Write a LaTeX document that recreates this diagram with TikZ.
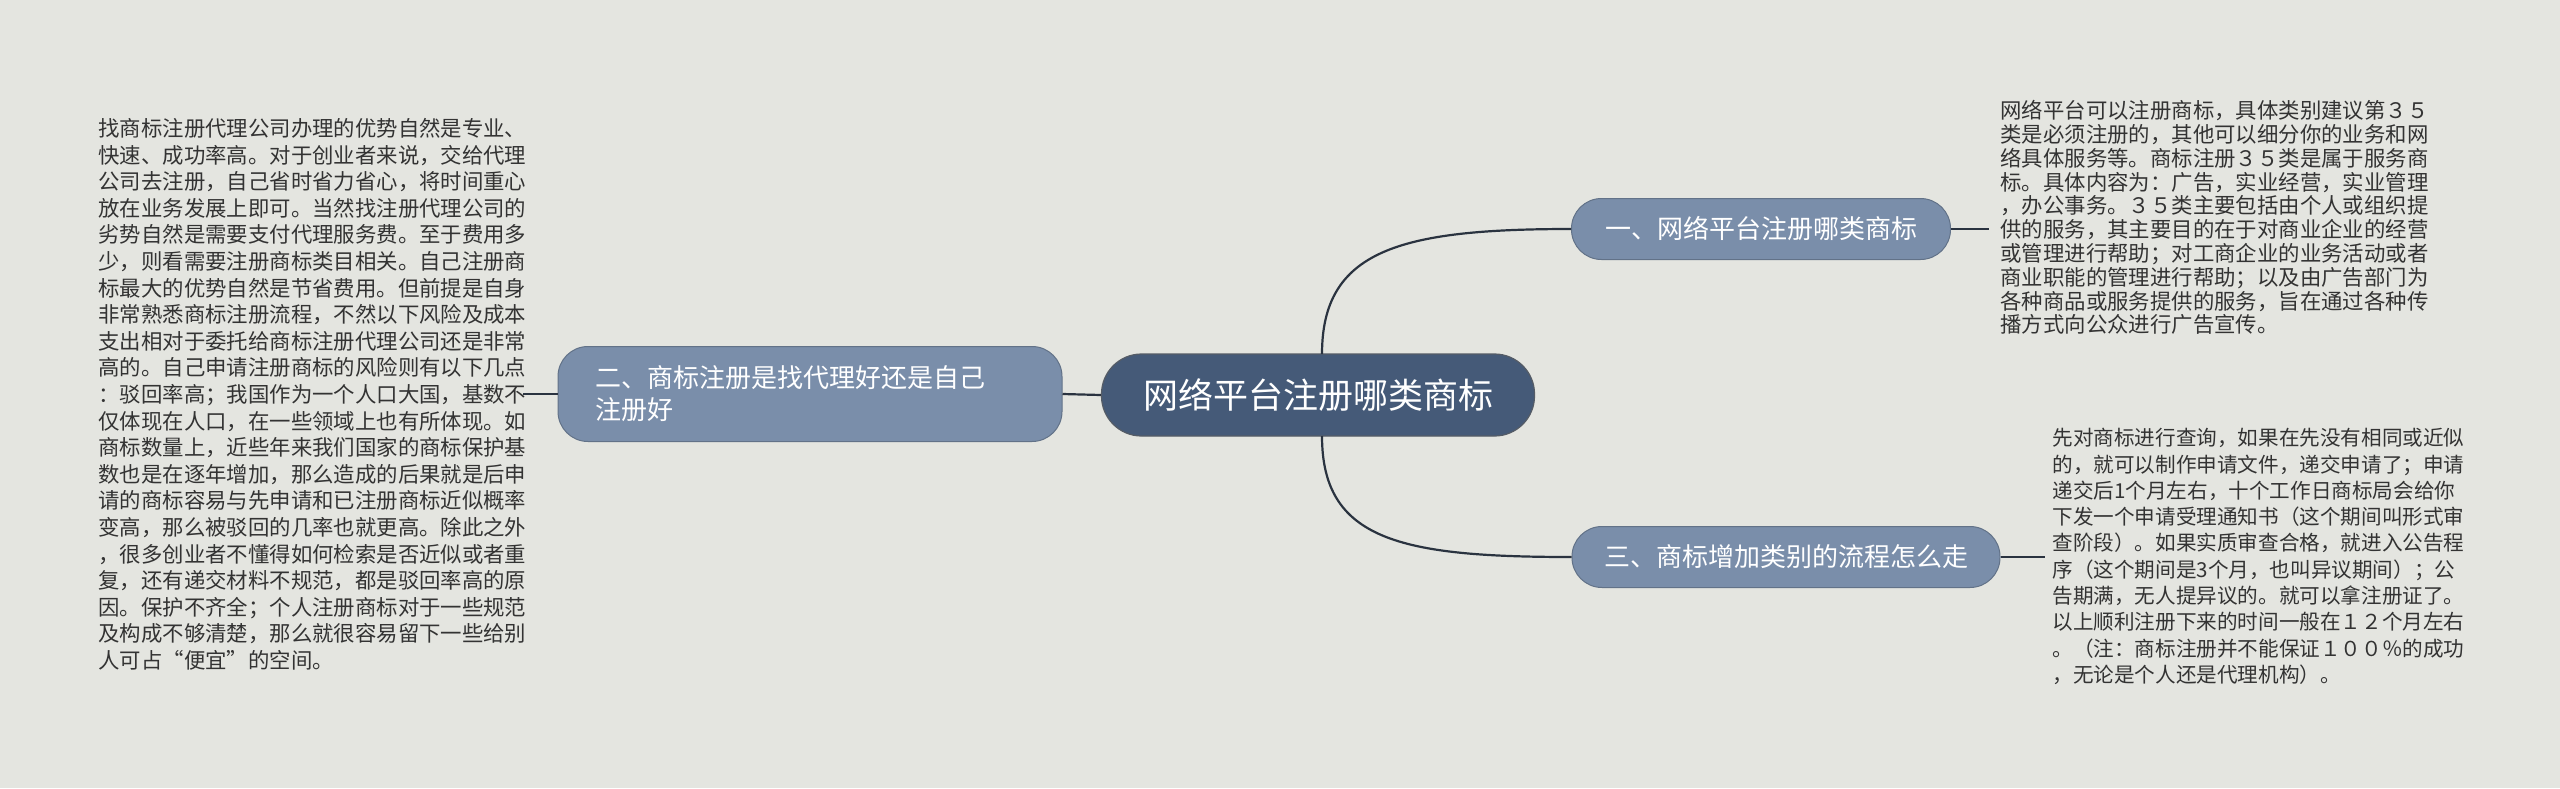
\documentclass[tikz,border=0pt]{standalone}
\usepackage{fontspec}
\setmainfont{Noto Sans CJK SC}
\definecolor{bg}{HTML}{E4E5E0}
\definecolor{cen}{HTML}{455A78}
\definecolor{side}{HTML}{7A8EAA}
\definecolor{ln}{HTML}{2A3340}
\definecolor{tx}{HTML}{333333}
\begin{document}
\begin{tikzpicture}[x=0.5pt,y=-0.5pt,
  cbox/.style={rounded corners=20pt,fill=cen,draw=ln!80,line width=0.6pt,text=white,font=\fontsize{17.5pt}{21pt}\selectfont,minimum width=216.5pt,minimum height=41pt,inner sep=0pt},
  sbox/.style={rounded corners=15pt,fill=side,draw=side!80!black,line width=0.5pt,text=white,font=\fontsize{13pt}{16pt}\selectfont,inner sep=0pt},
  para/.style={anchor=north west,inner sep=0pt,text=tx,align=left},
  conn/.style={draw=ln,line width=1.1pt}]
\fill[bg] (0,0) rectangle (2560,788);
\node[cbox] (c) at (1318,395) {网络平台注册哪类商标};
\node[sbox,minimum width=252pt,minimum height=47.5pt,align=left,text width=215pt] (l) at (810,394) {二、商标注册是找代理好还是自己\\注册好};
\node[sbox,minimum width=189.5pt,minimum height=30.5pt] (r1) at (1761,229) {一、网络平台注册哪类商标};
\node[sbox,minimum width=214pt,minimum height=30.5pt] (r2) at (1786,557) {三、商标增加类别的流程怎么走};
\coordinate (lt) at (523,394);
\coordinate (r1t) at (1989,229);
\coordinate (r2t) at (2045,557);
\coordinate (cu) at (1322,354);
\coordinate (cd) at (1322,436);
\draw[conn] (c.west) -- (l.east);
\draw[conn] (l.west) -- (lt);
\draw[conn] (r1.east) -- (r1t);
\draw[conn] (r2.east) -- (r2t);
\draw[conn] (cu) .. controls (1322,250) and (1400,229) .. (r1.west);
\draw[conn] (cd) .. controls (1322,540) and (1400,557) .. (r2.west);
\node[para,font=\fontsize{10.7pt}{13.3pt}\selectfont] (lp) at (98,118) {找商标注册代理公司办理的优势自然是专业、\\快速、成功率高。对于创业者来说，交给代理\\公司去注册，自己省时省力省心，将时间重心\\放在业务发展上即可。当然找注册代理公司的\\劣势自然是需要支付代理服务费。至于费用多\\少，则看需要注册商标类目相关。自己注册商\\标最大的优势自然是节省费用。但前提是自身\\非常熟悉商标注册流程，不然以下风险及成本\\支出相对于委托给商标注册代理公司还是非常\\高的。自己申请注册商标的风险则有以下几点\\：驳回率高；我国作为一个人口大国，基数不\\仅体现在人口，在一些领域上也有所体现。如\\商标数量上，近些年来我们国家的商标保护基\\数也是在逐年增加，那么造成的后果就是后申\\请的商标容易与先申请和已注册商标近似概率\\变高，那么被驳回的几率也就更高。除此之外\\，很多创业者不懂得如何检索是否近似或者重\\复，还有递交材料不规范，都是驳回率高的原\\因。保护不齐全；个人注册商标对于一些规范\\及构成不够清楚，那么就很容易留下一些给别\\人可占“便宜”的空间。};
\node[para,font=\fontsize{10.7pt}{11.9pt}\selectfont] (r1p) at (2000,100) {网络平台可以注册商标，具体类别建议第３５\\类是必须注册的，其他可以细分你的业务和网\\络具体服务等。商标注册３５类是属于服务商\\标。具体内容为：广告，实业经营，实业管理\\，办公事务。３５类主要包括由个人或组织提\\供的服务，其主要目的在于对商业企业的经营\\或管理进行帮助；对工商企业的业务活动或者\\商业职能的管理进行帮助；以及由广告部门为\\各种商品或服务提供的服务，旨在通过各种传\\播方式向公众进行广告宣传。};
\node[para,font=\fontsize{10.3pt}{13.15pt}\selectfont] (r2p) at (2052,428) {先对商标进行查询，如果在先没有相同或近似\\的，就可以制作申请文件，递交申请了；申请\\递交后1个月左右，十个工作日商标局会给你\\下发一个申请受理通知书（这个期间叫形式审\\查阶段）。如果实质审查合格，就进入公告程\\序（这个期间是3个月，也叫异议期间）；公\\告期满，无人提异议的。就可以拿注册证了。\\以上顺利注册下来的时间一般在１２个月左右\\。（注：商标注册并不能保证１００％的成功\\，无论是个人还是代理机构）。};
\end{tikzpicture}
\end{document}
